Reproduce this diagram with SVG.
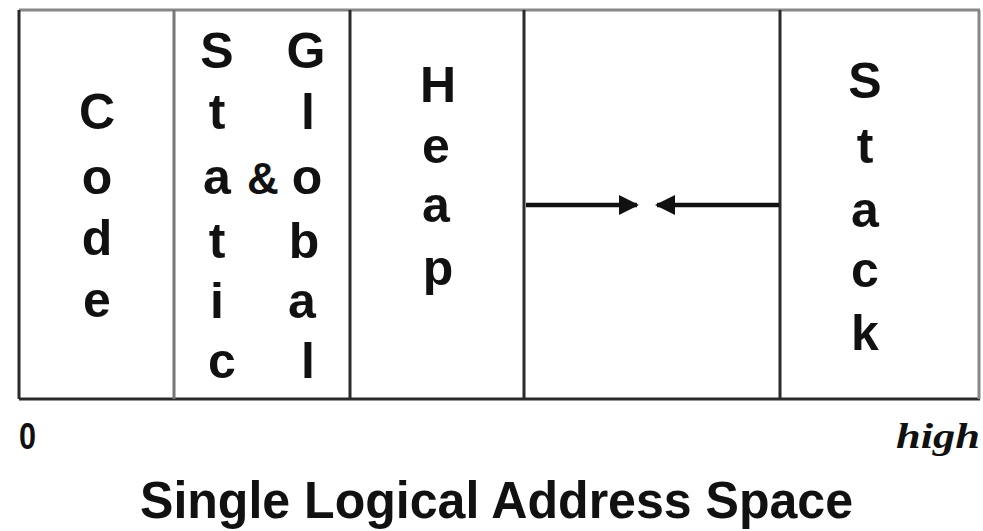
<svg xmlns="http://www.w3.org/2000/svg" width="983" height="531" viewBox="0 0 983 531">
<defs>
<style>
.l{font-family:"Liberation Sans",Arial,sans-serif;font-size:50px;font-weight:bold;fill:#111;text-anchor:middle}
.b{stroke:#2a2a2a;stroke-width:3;fill:none}
.c{stroke:#111;stroke-width:4.5}
</style>
<marker id="ah" viewBox="0 0 10 10" refX="9" refY="5" markerWidth="4.5" markerHeight="4.5" orient="auto" markerUnits="strokeWidth">
<path d="M0,0 L10,5 L0,10 z" fill="#111"/>
</marker>
</defs>
<rect width="983" height="531" fill="#fff"/>
<g id="frame">
<line x1="19" y1="10" x2="980" y2="10" stroke="#888" stroke-width="3"/>
<line x1="19" y1="399" x2="980" y2="399" class="b"/>
<line x1="19" y1="10" x2="19" y2="399" class="b"/>
<line x1="979" y1="10" x2="979" y2="399" stroke="#888" stroke-width="3"/>
<line x1="174" y1="10" x2="174" y2="399" stroke="#777" stroke-width="3"/>
<line x1="350" y1="10" x2="350" y2="399" class="b"/>
<line x1="524" y1="10" x2="524" y2="399" class="b"/>
<line x1="780" y1="10" x2="780" y2="399" class="b"/>
</g>
<g id="code">
<text class="l" x="97" y="129">C</text>
<text class="l" x="97" y="194">o</text>
<text class="l" x="97" y="255">d</text>
<text class="l" x="97" y="317">e</text>
</g>
<g id="static-global">
<text class="l" x="217" y="68">S</text>
<text class="l" x="217" y="129">t</text>
<text class="l" x="217" y="194">a</text>
<text class="l" x="217" y="258">t</text>
<text class="l" x="217" y="318">i</text>
<text class="l" x="222" y="378">c</text>
<text class="l" x="263" y="194" style="font-size:44px">&amp;</text>
<text class="l" x="306" y="68">G</text>
<text class="l" x="308" y="129">l</text>
<text class="l" x="307" y="194">o</text>
<text class="l" x="304" y="258">b</text>
<text class="l" x="302" y="318">a</text>
<text class="l" x="308" y="378">l</text>
</g>
<g id="heap">
<text class="l" x="438" y="102">H</text>
<text class="l" x="436" y="163">e</text>
<text class="l" x="436" y="222">a</text>
<text class="l" x="438" y="285">p</text>
</g>
<g id="stack">
<text class="l" x="865" y="98">S</text>
<text class="l" x="865" y="163">t</text>
<text class="l" x="865" y="227">a</text>
<text class="l" x="865" y="287">c</text>
<text class="l" x="865" y="350">k</text>
</g>
<g id="connectors">
<line x1="526" y1="205" x2="637" y2="205" class="c" marker-end="url(#ah)"/>
<line x1="779" y1="205" x2="657" y2="205" class="c" marker-end="url(#ah)"/>
</g>
<g id="labels">
<text x="19" y="449" font-family="'Liberation Sans',Arial,sans-serif" font-size="36" font-weight="bold" fill="#111" textLength="17" lengthAdjust="spacingAndGlyphs">0</text>
<text x="896" y="448" font-family="'Liberation Serif','Times New Roman',serif" font-size="36" font-weight="bold" font-style="italic" fill="#111" textLength="84" lengthAdjust="spacingAndGlyphs">high</text>
<text x="140" y="518" font-family="'Liberation Sans',Arial,sans-serif" font-size="52" font-weight="bold" fill="#111" textLength="713" lengthAdjust="spacingAndGlyphs">Single Logical Address Space</text>
</g>
</svg>
